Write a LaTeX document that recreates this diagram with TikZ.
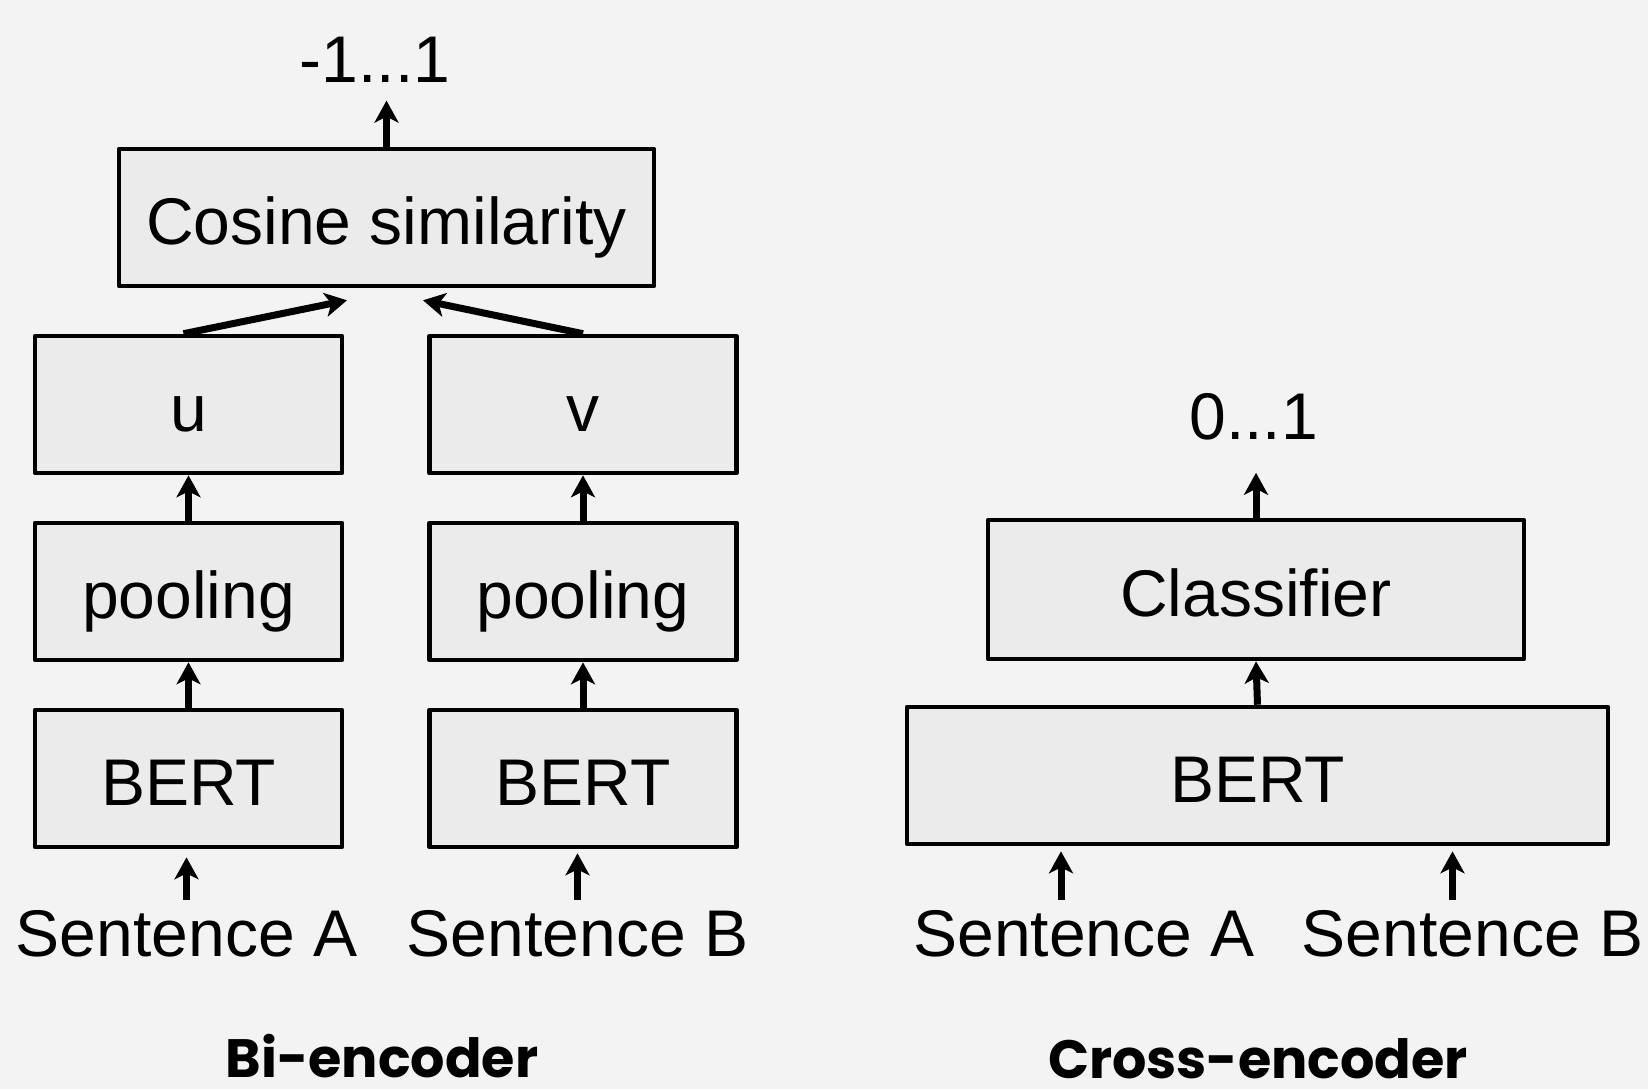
\documentclass[tikz,border=0pt]{standalone}
\usepackage{fontspec}
\setmainfont{Liberation Sans}
\newfontfamily\capfont{Poppins}
\usepackage{tikz}
\usetikzlibrary{arrows.meta, positioning, calc}
\definecolor{bgcolor}{RGB}{243, 243, 243}
\definecolor{boxfill}{RGB}{235, 235, 235}
\newcommand{\boxfont}{\fontsize{33}{40}\selectfont}

\begin{document}
\begin{tikzpicture}[x=0.5pt, y=-0.5pt,
    block/.style={rectangle, draw=black, line width=2.3pt, line join=round, fill=boxfill,
                  minimum width=153.5pt, minimum height=68.5pt, font=\boxfont, inner sep=0pt,
                  text height=27pt, text depth=0pt},
    wideblock/.style={block, minimum width=268pt, minimum height=69.5pt},
    txt/.style={font=\boxfont, inner sep=5pt},
    captxt/.style={font=\capfont\bfseries\fontsize{27}{32}\selectfont, anchor=base, inner sep=0pt},
    flow/.style={-{Stealth[length=11pt, width=12pt, inset=3pt]}, line width=3.5pt}
]

% Background
\fill[bgcolor] (0,0) rectangle (1648,1089);
\useasboundingbox (0,0) rectangle (1648,1089);

% Bi-encoder - two towers
\node[block, minimum width=267.5pt] (cos) at (386.5,217.5) {Cosine similarity};
\node[txt] (outbi) at (375,59.5) {-1...1};
\node[block] (u) at (188.5,404.5) {u};
\node[block] (v) at (583,404.5) {v};
\node[block] (poolA) at (188.5,591.5) {pooling};
\node[block] (poolB) at (583,591.5) {pooling};
\node[block] (bertA) at (188.5,778.5) {BERT};
\node[block] (bertB) at (583,778.5) {BERT};
\node[txt] (sentA) at (186.5,934) {Sentence A};
\node[txt] (sentB) at (577.5,934) {Sentence B};

\coordinate (cosinL) at ($(cos.south)+(-39.5,12)$);
\coordinate (cosinR) at ($(cos.south)+(36.5,12)$);

% Arrows
\draw[flow, shorten >=4pt] (cos.north) -- (cos.north |- outbi.south);
\draw[flow] ($(u.north)+(-5,0)$) -- (cosinL);
\draw[flow] (v.north) -- (cosinR);
\draw[flow] (poolA.north) -- (u.south);
\draw[flow] (poolB.north) -- (v.south);
\draw[flow] (bertA.north) -- (poolA.south);
\draw[flow] (bertB.north) -- (poolB.south);
\draw[flow, shorten >=4pt] (sentA.north) -- (sentA.north |- bertA.south);
\draw[flow, shorten >=2pt] (sentB.north) -- (sentB.north |- bertB.south);

% Cross-encoder - one tower
\node[block, minimum width=350.5pt] (xbert) at (1257.5,775.5) {BERT};
\node[wideblock] (cls) at (1256,589.5) {Classifier};
\node[txt] (outx) at (1253.5,417) {0...1};
\node[txt] (xsentA) at (1084,934) {Sentence A};
\node[txt] (xsentB) at (1472.5,934) {Sentence B};

\coordinate (xinA) at ($(xsentA.north)+(-23,0)$);
\coordinate (xinB) at ($(xsentB.north)+(-20,0)$);

\draw[flow] (xbert.north) -- (cls.south);
\draw[flow, shorten >=11pt] (cls.north) -- (cls.north |- outx.south);
\draw[flow, shorten >=2.5pt] (xinA) -- (xinA |- xbert.south);
\draw[flow, shorten >=2.5pt] (xinB) -- (xinB |- xbert.south);

% Captions
\node[captxt] (bicap) at (382,1077) {Bi-encoder};
\node[captxt] (xcap) at (1258,1078) {Cross-encoder};

\end{tikzpicture}
\end{document}
